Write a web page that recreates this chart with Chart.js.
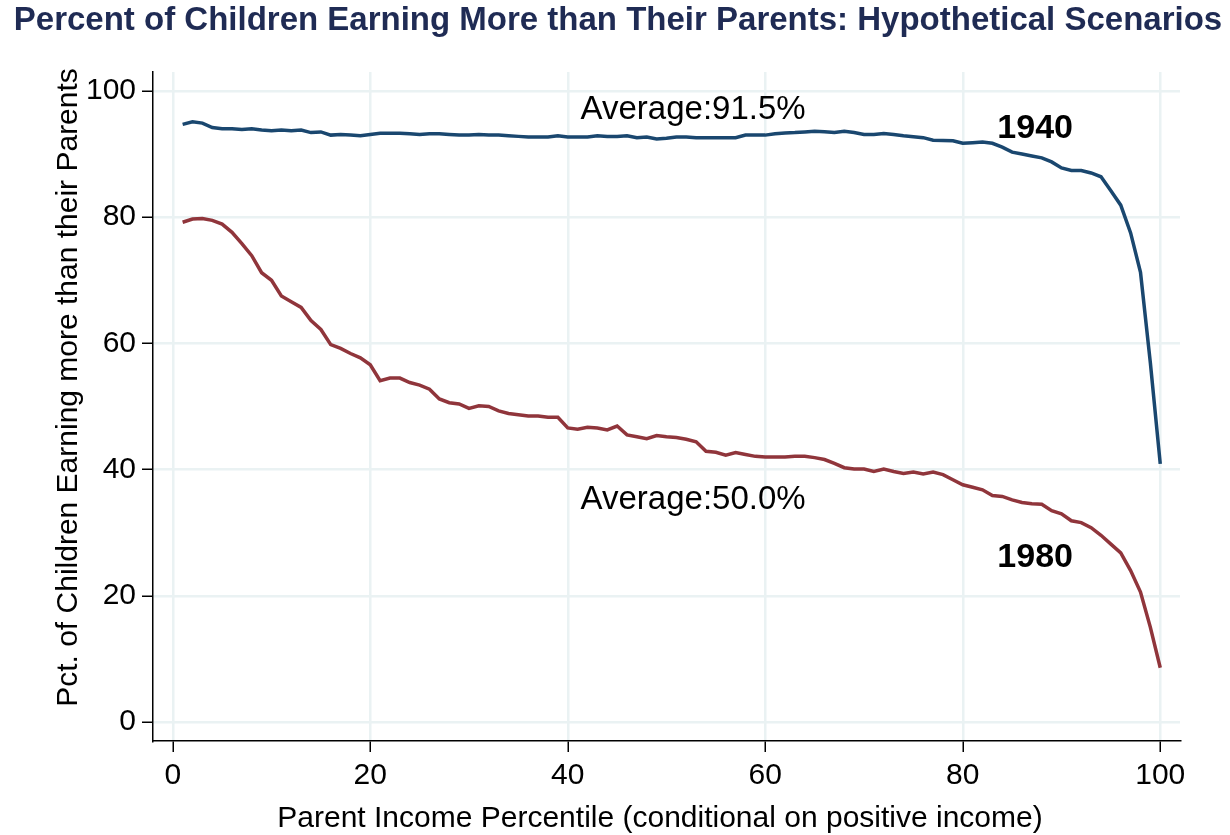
<!DOCTYPE html>
<html>
<head>
<meta charset="utf-8">
<script src="https://cdn.jsdelivr.net/npm/chart.js@4.4.1/dist/chart.umd.min.js"></script>
<style>
  html, body { margin: 0; padding: 0; background: #ffffff; }
  #wrap { width: 1230px; height: 835px; position: relative; }
</style>
</head>
<body>
<div id="wrap"><canvas id="c" width="1230" height="835"></canvas></div>
<script>
// ---------- DATA ----------
const percentiles = [1,2,3,4,5,6,7,8,9,10,11,12,13,14,15,16,17,18,19,20,
  21,22,23,24,25,26,27,28,29,30,31,32,33,34,35,36,37,38,39,40,
  41,42,43,44,45,46,47,48,49,50,51,52,53,54,55,56,57,58,59,60,
  61,62,63,64,65,66,67,68,69,70,71,72,73,74,75,76,77,78,79,80,
  81,82,83,84,85,86,87,88,89,90,91,92,93,94,95,96,97,98,99,100];

const cohort1940 = [94.7,95.1,94.9,94.2,94.0,94.0,93.9,94.0,93.8,93.7,
  93.8,93.7,93.8,93.4,93.5,93.0,93.1,93.0,92.9,93.1,
  93.3,93.3,93.3,93.2,93.1,93.2,93.2,93.1,93.0,93.0,
  93.1,93.0,93.0,92.9,92.8,92.7,92.7,92.7,92.9,92.7,
  92.7,92.7,92.9,92.8,92.8,92.9,92.6,92.7,92.4,92.5,
  92.7,92.7,92.6,92.6,92.6,92.6,92.6,93.0,93.0,93.0,
  93.2,93.35,93.4,93.5,93.6,93.55,93.4,93.6,93.4,93.1,
  93.1,93.25,93.1,92.9,92.75,92.6,92.2,92.15,92.1,91.7,
  91.8,91.9,91.7,91.1,90.3,90.0,89.7,89.4,88.75,87.8,
  87.4,87.4,87.0,86.4,84.2,81.9,77.5,71.25,56.9,40.9];

const cohort1980 = [79.2,79.7,79.8,79.5,78.9,77.6,75.8,73.9,71.2,70.0,
  67.5,66.6,65.7,63.6,62.2,59.8,59.2,58.4,57.7,56.6,
  54.1,54.5,54.5,53.8,53.4,52.75,51.2,50.6,50.4,49.7,
  50.1,50.0,49.3,48.9,48.7,48.5,48.5,48.3,48.3,46.6,
  46.4,46.7,46.6,46.3,46.9,45.5,45.2,44.9,45.4,45.2,
  45.1,44.8,44.4,42.9,42.75,42.3,42.7,42.4,42.1,42.0,
  42.0,42.0,42.1,42.1,41.9,41.6,41.0,40.3,40.1,40.1,
  39.7,40.1,39.7,39.4,39.6,39.3,39.6,39.2,38.4,37.6,
  37.2,36.8,35.9,35.75,35.2,34.8,34.6,34.5,33.5,33.0,
  31.9,31.6,30.8,29.6,28.2,26.8,24.0,20.6,15.0,8.6];

const xTickValues = [0, 20, 40, 60, 80, 100];
const yTickValues = [0, 20, 40, 60, 80, 100];

const titleText = "Percent of Children Earning More than Their Parents: Hypothetical Scenarios";
const xTitleText = "Parent Income Percentile (conditional on positive income)";
const yTitleText = "Pct. of Children Earning more than their Parents";

const noteTexts = ["Average:91.5%", "Average:50.0%", "1940", "1980"];

// ---------- STYLE / LAYOUT ----------
const FONT = "'Liberation Sans', Arial, Helvetica, sans-serif";
const notePlacement = [
  { x: 41.3, y: 95.56, bold: false, size: 33 },
  { x: 41.3, y: 33.76, bold: false, size: 33 },
  { x: 83.5, y: 92.55, bold: true,  size: 34 },
  { x: 83.5, y: 24.56, bold: true,  size: 34 }
];

const textPlugin = {
  id: 'texts',
  afterDraw(chart) {
    const ctx = chart.ctx;
    const xs = chart.scales.x, ys = chart.scales.y;
    ctx.save();
    // title
    ctx.fillStyle = '#1f2b54';
    ctx.font = "bold 33px " + FONT;
    ctx.textAlign = 'center';
    ctx.textBaseline = 'alphabetic';
    ctx.fillText(titleText, 618, 30);
    // x title
    ctx.fillStyle = '#000000';
    ctx.font = "30px " + FONT;
    ctx.fillText(xTitleText, 660, 827);
    // y title
    ctx.save();
    ctx.translate(77, 387.5);
    ctx.rotate(-Math.PI / 2);
    ctx.fillText(yTitleText, 0, 0);
    ctx.restore();
    // notes
    ctx.textAlign = 'left';
    noteTexts.forEach((t, i) => {
      const p = notePlacement[i];
      ctx.font = (p.bold ? "bold " : "") + p.size + "px " + FONT;
      ctx.fillText(t, xs.getPixelForValue(p.x), ys.getPixelForValue(p.y));
    });
    ctx.restore();
  }
};

const ctx = document.getElementById('c').getContext('2d');
new Chart(ctx, {
  type: 'line',
  data: {
    datasets: [
      {
        label: '1940',
        data: percentiles.map((p, i) => ({ x: p, y: cohort1940[i] })),
        borderColor: '#1a476f',
        borderWidth: 3.5,
        pointRadius: 0,
        tension: 0,
        fill: false
      },
      {
        label: '1980',
        data: percentiles.map((p, i) => ({ x: p, y: cohort1980[i] })),
        borderColor: '#90353b',
        borderWidth: 3.5,
        pointRadius: 0,
        tension: 0,
        fill: false
      }
    ]
  },
  options: {
    responsive: false,
    animation: false,
    devicePixelRatio: 1,
    layout: { padding: { top: 72, right: 50, left: 0, bottom: 0 } },
    plugins: {
      legend: { display: false },
      title: { display: false },
      tooltip: { enabled: false }
    },
    scales: {
      x: {
        type: 'linear',
        min: -2,
        max: 102,
        afterBuildTicks: (s) => { s.ticks = xTickValues.map(v => ({ value: v })); },
        afterFit: (s) => { s.height = 94; },
        grid: {
          color: '#eaf2f3',
          lineWidth: 2.5,
          drawTicks: true,
          tickLength: 11,
          tickColor: '#000000',
          tickWidth: 1.5
        },
        border: { display: true, color: '#000000', width: 1.5 },
        ticks: {
          color: '#000000',
          font: { family: FONT, size: 30 },
          padding: 6,
          maxRotation: 0,
          autoSkip: false
        }
      },
      y: {
        type: 'linear',
        min: -3,
        max: 103,
        afterBuildTicks: (s) => { s.ticks = yTickValues.map(v => ({ value: v })); },
        afterFit: (s) => { s.width = 153; },
        grid: {
          color: '#eaf2f3',
          lineWidth: 2.5,
          drawTicks: true,
          tickLength: 11,
          tickColor: '#000000',
          tickWidth: 1.5
        },
        border: { display: true, color: '#000000', width: 1.5 },
        ticks: {
          color: '#000000',
          font: { family: FONT, size: 30 },
          padding: 6,
          autoSkip: false
        }
      }
    }
  },
  plugins: [textPlugin]
});
</script>
</body>
</html>
